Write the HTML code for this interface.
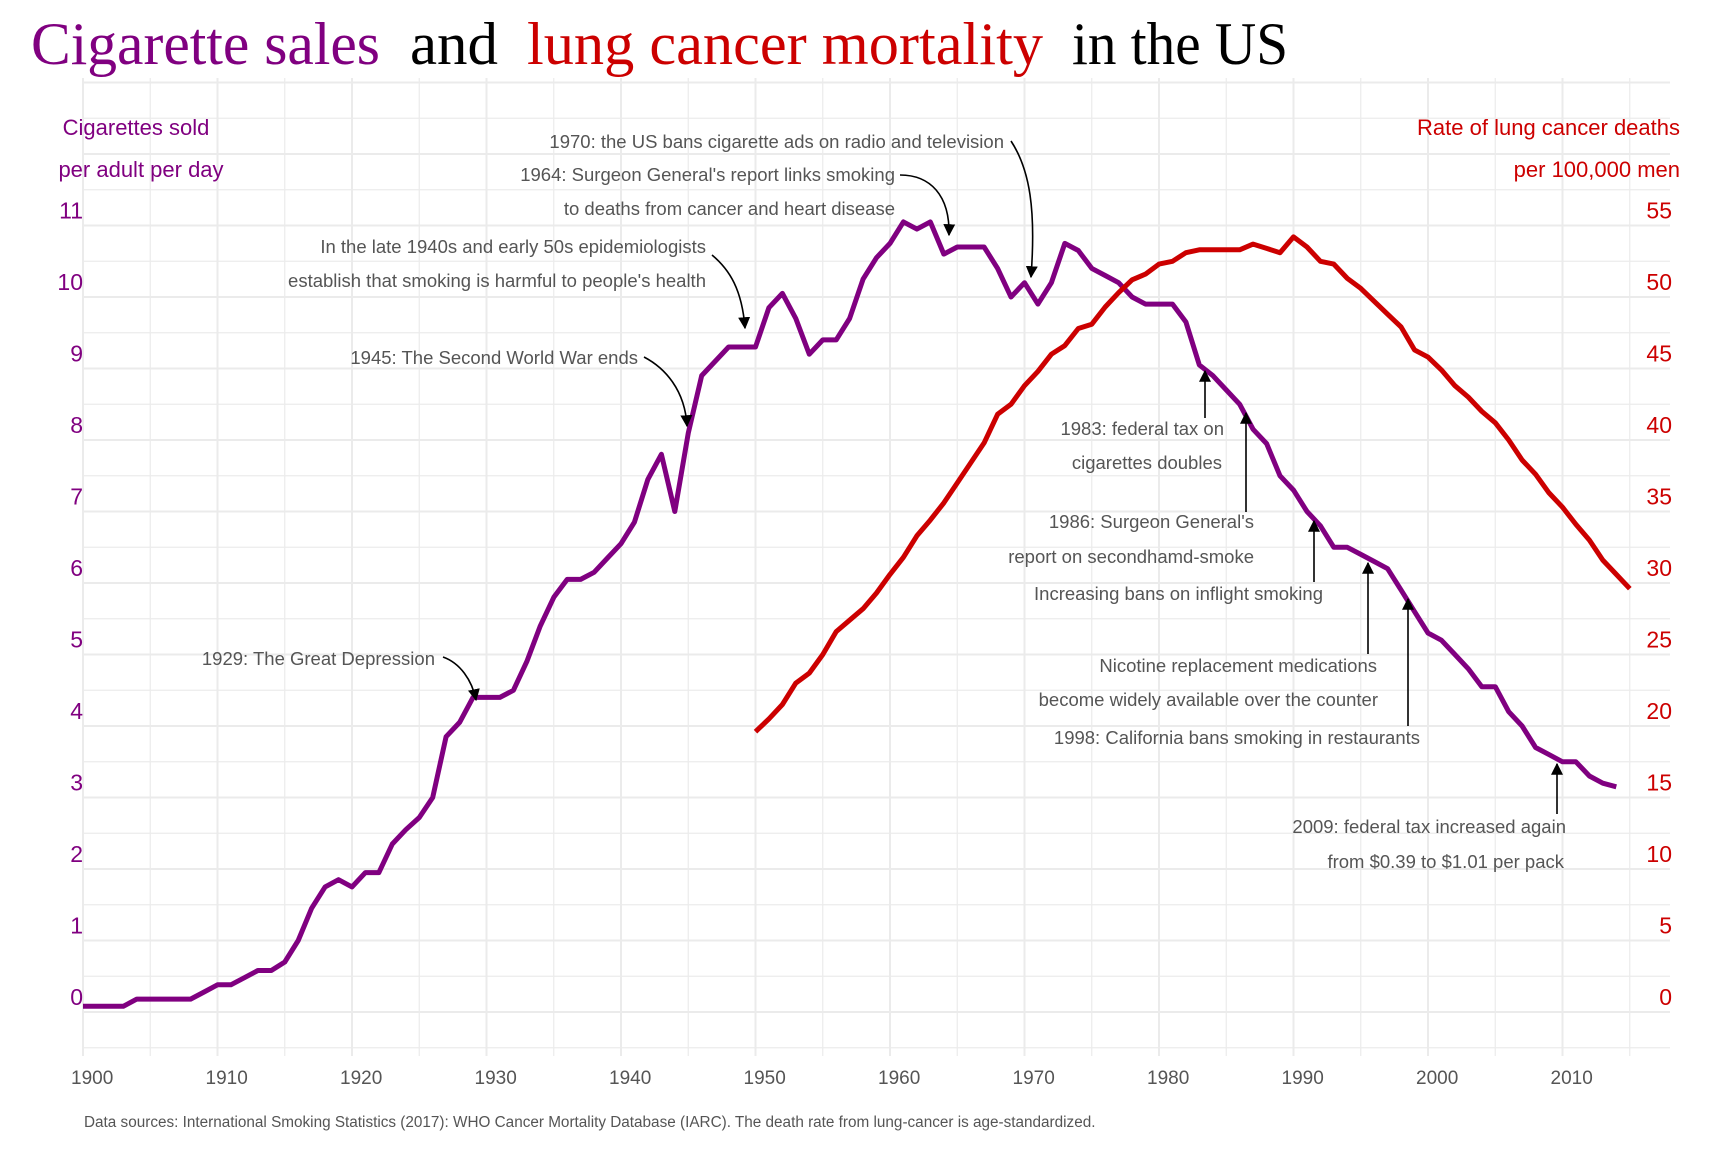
<!DOCTYPE html>
<html><head><meta charset="utf-8">
<style>
html,body{margin:0;padding:0;background:#fff;}
svg{display:block;}
.ann{fill:#555;font-size:18.5px;text-anchor:end;font-family:"Liberation Sans",sans-serif;}
.ax{font-size:23px;font-family:"Liberation Sans",sans-serif;}
.xt{fill:#555;font-size:19px;font-family:"Liberation Sans",sans-serif;}
.ttl{font-family:"Liberation Serif",serif;font-size:60px;}
.sans{font-family:"Liberation Sans",sans-serif;}
</style></head>
<body>
<svg id="s" width="1728" height="1152" viewBox="0 0 1728 1152" xmlns="http://www.w3.org/2000/svg">
<defs>
<marker id="ah2" viewBox="0 0 10 10" refX="9" refY="5" markerWidth="12" markerHeight="12" markerUnits="userSpaceOnUse" orient="auto">
<path d="M0,0 L10,5 L0,10 z" fill="#000"/></marker>
</defs>
<g id="grid"></g>
<g class="ttl">
<text x="31" y="64" fill="#800080" textLength="349" lengthAdjust="spacingAndGlyphs">Cigarette sales</text>
<text x="410" y="64" fill="#000" textLength="88" lengthAdjust="spacingAndGlyphs">and</text>
<text x="527" y="64" fill="#cc0000" textLength="516" lengthAdjust="spacingAndGlyphs">lung cancer mortality</text>
<text x="1072" y="64" fill="#000" textLength="216" lengthAdjust="spacingAndGlyphs">in the US</text>
</g>
<g class="ax" fill="#800080" text-anchor="middle">
<text x="136" y="135" font-size="22">Cigarettes sold</text>
<text x="141" y="177" font-size="22">per adult per day</text>
</g>
<g class="ax" fill="#cc0000" text-anchor="end">
<text x="1680" y="135" font-size="22">Rate of lung cancer deaths</text>
<text x="1680" y="177" font-size="22">per 100,000 men</text>
</g>
<g id="labels" class="sans"></g>
<polyline id="purple" fill="none" stroke="#800080" stroke-width="5" stroke-linejoin="round"/>
<polyline id="red" fill="none" stroke="#cc0000" stroke-width="5" stroke-linejoin="round"/>
<g class="ann">
<text x="1004" y="148">1970: the US bans cigarette ads on radio and television</text>
<text x="895" y="181">1964: Surgeon General's report links smoking</text>
<text x="895" y="215">to deaths from cancer and heart disease</text>
<text x="706" y="253">In the late 1940s and early 50s epidemiologists</text>
<text x="706" y="287">establish that smoking is harmful to people's health</text>
<text x="638" y="364">1945: The Second World War ends</text>
<text x="435" y="665">1929: The Great Depression</text>
<text x="1224" y="435">1983: federal tax on</text>
<text x="1222" y="469">cigarettes doubles</text>
<text x="1254" y="528">1986: Surgeon General's</text>
<text x="1254" y="563">report on secondhamd-smoke</text>
<text x="1323" y="600">Increasing bans on inflight smoking</text>
<text x="1377" y="672">Nicotine replacement medications</text>
<text x="1378" y="706">become widely available over the counter</text>
<text x="1420" y="744">1998: California bans smoking in restaurants</text>
<text x="1566" y="833">2009: federal tax increased again</text>
<text x="1564" y="868">from $0.39 to $1.01 per pack</text>
</g>
<text x="84" y="1127" fill="#555" font-size="15.3" class="sans">Data sources: International Smoking Statistics (2017): WHO Cancer Mortality Database (IARC). The death rate from lung-cancer is age-standardized.</text>
<g fill="none" stroke="#000" stroke-width="1.6">
<path d="M1011,141 C1030,170 1036,210 1031,277" marker-end="url(#ah2)"/>
<path d="M900,175 C930,175 950,195 949,235" marker-end="url(#ah2)"/>
<path d="M712,255 C730,270 742,290 745,328" marker-end="url(#ah2)"/>
<path d="M644,357 C665,368 685,390 687,426" marker-end="url(#ah2)"/>
<path d="M443,657 C460,663 472,680 476,700" marker-end="url(#ah2)"/>
<path d="M1205,418 L1205,371" marker-end="url(#ah2)"/>
<path d="M1246,512 L1246,413" marker-end="url(#ah2)"/>
<path d="M1314,582 L1314,521" marker-end="url(#ah2)"/>
<path d="M1368,654 L1368,563" marker-end="url(#ah2)"/>
<path d="M1408,726 L1408,599" marker-end="url(#ah2)"/>
<path d="M1557,814 L1557,764" marker-end="url(#ah2)"/>
</g>
</svg>
<script>
var NS="http://www.w3.org/2000/svg";
function X(yr){return 83+13.45*(yr-1900);}
function Y(v){return 1012-71.5*v;}
var g=document.getElementById("grid"),L=document.getElementById("labels");
function el(p,tag,a,t){var e=document.createElementNS(NS,tag);for(var k in a)e.setAttribute(k,a[k]);if(t!==undefined)e.textContent=t;p.appendChild(e);return e;}
for(var yr=1900;yr<=2015;yr+=5){var maj=yr%10==0;el(g,"line",{x1:X(yr),x2:X(yr),y1:78,y2:1056,stroke:"#ebebeb","stroke-width":maj?2:1.2});
 if(maj)el(L,"text",{x:X(yr)-12,y:1084,"class":"xt"},String(yr));}
for(var v=-0.5;v<=13.01;v+=0.5){var maj=Math.abs(v-Math.round(v))<0.01;el(g,"line",{x1:83,x2:1670,y1:Y(v),y2:Y(v),stroke:"#ebebeb","stroke-width":maj?2:1.2});}
for(var i=0;i<=11;i++){el(L,"text",{x:83,y:Y(i)-7,"text-anchor":"end",fill:"#800080","font-size":"23"},String(i));
 el(L,"text",{x:1672,y:Y(i)-7,"text-anchor":"end",fill:"#cc0000","font-size":"23"},String(i*5));}
var p=[0.08,0.08,0.08,0.08,0.18,0.18,0.18,0.18,0.18,0.28,0.38,0.38,0.48,0.58,0.58,0.7,1.0,1.45,1.75,1.85,1.75,1.95,1.95,2.35,2.55,2.72,3.0,3.85,4.05,4.4,4.4,4.4,4.5,4.9,5.4,5.8,6.05,6.05,6.15,6.35,6.55,6.85,7.45,7.8,7.0,8.1,8.9,9.1,9.3,9.3,9.3,9.85,10.05,9.7,9.2,9.4,9.4,9.7,10.25,10.55,10.75,11.05,10.95,11.05,10.6,10.7,10.7,10.7,10.4,10.0,10.2,9.9,10.2,10.75,10.65,10.4,10.3,10.2,10.0,9.9,9.9,9.9,9.65,9.05,8.9,8.7,8.5,8.15,7.95,7.5,7.3,7.0,6.8,6.5,6.5,6.4,6.3,6.2,5.9,5.6,5.3,5.2,5.0,4.8,4.55,4.55,4.2,4.0,3.7,3.6,3.5,3.5,3.3,3.2,3.15];
var r=[19.6,20.5,21.5,23,23.7,25,26.6,27.4,28.2,29.3,30.6,31.8,33.3,34.4,35.6,37,38.4,39.8,41.8,42.5,43.8,44.8,46,46.6,47.8,48.1,49.3,50.3,51.2,51.6,52.3,52.5,53.1,53.3,53.3,53.3,53.3,53.7,53.4,53.1,54.2,53.5,52.5,52.3,51.3,50.6,49.7,48.8,47.9,46.3,45.8,44.9,43.8,43,42,41.2,40,38.6,37.6,36.3,35.3,34.1,33,31.6,30.6,29.6];
document.getElementById("purple").setAttribute("points",p.map(function(v,i){return X(1900+i).toFixed(1)+","+Y(v).toFixed(1);}).join(" "));
document.getElementById("red").setAttribute("points",r.map(function(v,i){return X(1950+i).toFixed(1)+","+Y(v/5).toFixed(1);}).join(" "));
</script>
</body></html>
